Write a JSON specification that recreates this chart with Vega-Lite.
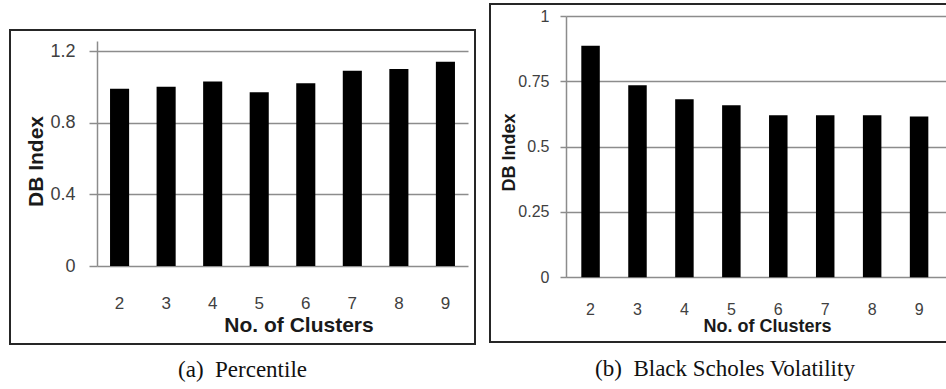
{
  "$schema": "https://vega.github.io/schema/vega-lite/v6.json",
  "padding": {"left": 9, "top": 3, "right": 0, "bottom": 0},
  "autosize": {"type": "pad"},
  "background": "white",
  "config": {
    "font": "Liberation Sans",
    "view": {"stroke": "#262626", "strokeWidth": 2},
    "axis": {
      "gridColor": "#8c8c8c",
      "gridWidth": 1.5,
      "domainColor": "#8c8c8c",
      "domainWidth": 1.5,
      "tickColor": "#8c8c8c",
      "tickWidth": 1.5,
      "labelColor": "#404040",
      "labelFont": "Liberation Sans",
      "titleColor": "#1a1a1a",
      "titleFont": "Liberation Sans",
      "titleFontWeight": "bold"
    },
    "title": {"font": "Liberation Serif", "fontWeight": "normal", "color": "#111111"}
  },
  "spacing": 13,
  "hconcat": [
    {
      "spacing": 24,
      "vconcat": [
        {
          "width": 465,
          "height": 1,
          "view": {"stroke": null},
          "data": {"values": []},
          "mark": {"type": "point"},
          "encoding": {}
        },
        {
          "width": 465,
          "height": 314,
          "title": {
            "text": "(a)\u00a0\u00a0Percentile",
            "orient": "bottom",
            "fontSize": 23,
            "baseline": "alphabetic",
            "offset": 33
          },
          "data": {
            "values": [
              {"clusters": "2", "db": 0.99},
              {"clusters": "3", "db": 1.0},
              {"clusters": "4", "db": 1.03},
              {"clusters": "5", "db": 0.97},
              {"clusters": "6", "db": 1.02},
              {"clusters": "7", "db": 1.09},
              {"clusters": "8", "db": 1.1},
              {"clusters": "9", "db": 1.14}
            ]
          },
          "mark": {"type": "bar", "color": "#000000"},
          "encoding": {
            "x": {
              "field": "clusters",
              "type": "ordinal",
              "sort": null,
              "scale": {"range": [87, 458], "paddingInner": 0.59, "paddingOuter": 0.28},
              "axis": {
                "orient": "bottom",
                "offset": -78,
                "domain": false,
                "ticks": false,
                "tickSize": 0,
                "grid": false,
                "labelAngle": 0,
                "labelFontSize": 17,
                "labelBaseline": "alphabetic",
                "labelPadding": 42,
                "title": "No. of Clusters",
                "titleFontSize": 21,
                "titleX": 288.5,
                "titleY": 65,
                "titleAlign": "center",
                "titleBaseline": "alphabetic"
              }
            },
            "y": {
              "field": "db",
              "type": "quantitative",
              "scale": {"domain": [0, 1.256], "range": [236, 11], "nice": false, "zero": true},
              "axis": {
                "offset": -87,
                "values": [0, 0.4, 0.8, 1.2],
                "format": ".1~f",
                "tickSize": 8,
                "labelPadding": 14,
                "labelFontSize": 18,
                "title": "DB Index",
                "titleFontSize": 21,
                "titleAngle": 270,
                "titleX": -55,
                "titleY": 131,
                "titleAlign": "center",
                "titleBaseline": "alphabetic"
              }
            }
          }
        }
      ]
    },
    {
      "width": 470,
      "height": 338,
      "title": {
        "text": "(b)\u00a0\u00a0Black Scholes Volatility",
        "orient": "bottom",
        "fontSize": 23,
        "baseline": "alphabetic",
        "offset": 34
      },
      "data": {
        "values": [
          {"clusters": "2", "db": 0.886},
          {"clusters": "3", "db": 0.735},
          {"clusters": "4", "db": 0.681},
          {"clusters": "5", "db": 0.658},
          {"clusters": "6", "db": 0.62},
          {"clusters": "7", "db": 0.62},
          {"clusters": "8", "db": 0.62},
          {"clusters": "9", "db": 0.615}
        ]
      },
      "mark": {"type": "bar", "color": "#000000"},
      "encoding": {
        "x": {
          "field": "clusters",
          "type": "ordinal",
          "sort": null,
          "scale": {"range": [76, 460], "paddingInner": 0.606, "paddingOuter": 0.394, "align": 0.414},
          "axis": {
            "orient": "bottom",
            "offset": -64.7,
            "domain": false,
            "ticks": false,
            "tickSize": 0,
            "grid": false,
            "labelAngle": 0,
            "labelFontSize": 16,
            "labelBaseline": "alphabetic",
            "labelPadding": 37,
            "title": "No. of Clusters",
            "titleFontSize": 18,
            "titleX": 277,
            "titleY": 54.4,
            "titleAlign": "center",
            "titleBaseline": "alphabetic"
          }
        },
        "y": {
          "field": "db",
          "type": "quantitative",
          "scale": {"domain": [0, 1], "range": [273.3, 12], "nice": false, "zero": true},
          "axis": {
            "offset": -76,
            "values": [0, 0.25, 0.5, 0.75, 1],
            "format": ".2~f",
            "tickSize": 6,
            "labelPadding": 11,
            "labelFontSize": 16,
            "title": "DB Index",
            "titleFontSize": 18,
            "titleAngle": 270,
            "titleX": -52,
            "titleY": 148,
            "titleAlign": "center",
            "titleBaseline": "alphabetic"
          }
        }
      }
    }
  ]
}
